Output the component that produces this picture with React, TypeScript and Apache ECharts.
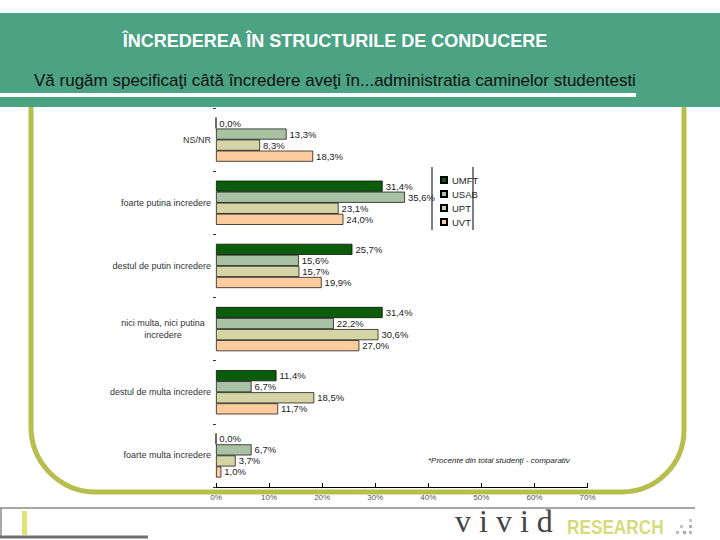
import React, { useEffect, useRef } from "react";
import * as echarts from "echarts";

const categories = [
  "NS/NR",
  "foarte putina incredere",
  "destul de putin incredere",
  "nici multa, nici putina\nincredere",
  "destul de multa incredere",
  "foarte multa incredere",
];
const seriesNames = ["UMFT", "USAB", "UPT", "UVT"];
const umft = [0.0, 31.4, 25.7, 31.4, 11.4, 0.0];
const usab = [13.3, 35.6, 15.6, 22.2, 6.7, 6.7];
const upt = [8.3, 23.1, 15.7, 30.6, 18.5, 3.7];
const uvt = [18.3, 24.0, 19.9, 27.0, 11.7, 1.0];
const seriesColors = ["#0b5c0b", "#a9c2a3", "#d5d4a4", "#fdcc9e"];
const xMin = 0;
const xMax = 70;
const xStep = 10;

const TITLE = "ÎNCREDEREA ÎN STRUCTURILE DE CONDUCERE";
const SUBTITLE =
  "Vă rugăm specificaţi câtă încredere aveţi în...administratia caminelor studentesti";
const NOTE = "*Procente din total studenţi - comparativ";

echarts.graphic.registerShape(
  "frame",
  echarts.graphic.extendPath(
    "M31,107 L31,427 A65,65 0 0 0 96,492 L622,492 A62,62 0 0 0 684,430 L684,107",
    {}
  )
);

const FONT = "'Liberation Sans', Arial, sans-serif";

export default function App() {
  const ref = useRef<HTMLDivElement>(null);
  useEffect(() => {
    if (!ref.current) return;
    const chart = echarts.init(ref.current, undefined, { renderer: "svg" });
    const values = [umft, usab, upt, uvt];
    const fmt = (v: number) => v.toFixed(1).replace(".", ",") + "%";
    const dots: any[] = [];
    const dotPos = [
      [689, 519, "#c8c8c8"],
      [680, 525, "#c8c8c8"],
      [689, 525, "#b0b0b0"],
      [676, 531, "#bdbdbd"],
      [683, 531, "#a8a8a8"],
      [689, 531, "#b8b8b8"],
    ];
    dotPos.forEach(([x, y, c]) =>
      dots.push({
        type: "rect",
        shape: { x: x as number, y: y as number, width: 3, height: 3 },
        style: { fill: c as string },
      })
    );
    chart.setOption({
      animation: false,
      textStyle: { fontFamily: FONT },
      graphic: [
        {
          type: "rect",
          z: -10,
          shape: { x: 0, y: 13, width: 720, height: 94 },
          style: { fill: "#4ba384" },
        },
        {
          type: "rect",
          z: -9,
          shape: { x: 0, y: 93, width: 636, height: 4 },
          style: { fill: "#ffffff" },
        },
        {
          type: "text",
          z: -8,
          x: 335,
          y: 41,
          style: {
            text: TITLE,
            fill: "#ffffff",
            font: `bold 18px ${FONT}`,
            align: "center",
            verticalAlign: "middle",
          },
        },
        {
          type: "text",
          z: -8,
          x: 34,
          y: 80,
          style: {
            text: SUBTITLE,
            fill: "#111111",
            font: `17px ${FONT}`,
            align: "left",
            verticalAlign: "middle",
          },
        },
        {
          type: "frame",
          z: -10,
          x: 0,
          y: 0,
          style: { fill: "none", stroke: "#b6bf4e", lineWidth: 5 },
        },
        {
          type: "line",
          shape: { x1: 432, y1: 167, x2: 432, y2: 230 },
          style: { stroke: "#000", lineWidth: 1 },
        },
        {
          type: "line",
          shape: { x1: 473, y1: 167, x2: 473, y2: 230 },
          style: { stroke: "#000", lineWidth: 1 },
        },
        {
          type: "text",
          x: 428,
          y: 460,
          style: {
            text: NOTE,
            fill: "#222",
            font: `italic 8px ${FONT}`,
            align: "left",
            verticalAlign: "middle",
          },
        },
        {
          type: "line",
          shape: { x1: 0, y1: 508, x2: 695, y2: 508 },
          style: { stroke: "#8a8a8a", lineWidth: 1.5 },
        },
        {
          type: "line",
          shape: { x1: 1, y1: 508, x2: 1, y2: 537 },
          style: { stroke: "#8a8a8a", lineWidth: 1.5 },
        },
        {
          type: "line",
          shape: { x1: 0, y1: 537, x2: 148, y2: 537 },
          style: { stroke: "#707070", lineWidth: 3 },
        },
        {
          type: "rect",
          shape: { x: 22, y: 511, width: 5, height: 24 },
          style: { fill: "#dfe36f" },
        },
        {
          type: "text",
          x: 455,
          y: 537,
          style: {
            text: "v i v i d",
            fill: "#444",
            font: `32px 'Liberation Serif', 'Times New Roman', serif`,
            align: "left",
            verticalAlign: "bottom",
          },
        },
        {
          type: "text",
          x: 567,
          y: 527,
          scaleX: 0.82,
          originX: 0,
          originY: 0,
          style: {
            text: "RESEARCH",
            fill: "#d6db7c",
            font: `bold 21px ${FONT}`,
            align: "left",
            verticalAlign: "middle",
          },
        },
        ...dots,
      ],
      legend: {
        data: seriesNames,
        orient: "vertical",
        left: 435,
        top: 170,
        itemWidth: 6,
        itemHeight: 6,
        itemGap: 4,
        icon: "rect",
        textStyle: { fontSize: 9.5, color: "#222", fontFamily: FONT },
      },
      grid: { left: 216, right: 132.5, top: 108, bottom: 53 },
      xAxis: {
        type: "value",
        min: xMin,
        max: xMax,
        interval: xStep,
        axisLine: { show: true, lineStyle: { color: "#000", width: 1 } },
        axisTick: { show: true, inside: true, length: 4, lineStyle: { color: "#000" } },
        splitLine: { show: false },
        axisLabel: {
          formatter: "{value}%",
          fontSize: 8,
          color: "#555",
          margin: 6,
        },
      },
      yAxis: {
        type: "category",
        inverse: true,
        data: categories,
        axisLine: { show: false },
        axisTick: { show: true, length: 3, lineStyle: { color: "#333" } },
        axisLabel: {
          fontSize: 9,
          color: "#333",
          margin: 5,
          lineHeight: 12,
          formatter: (v: string) =>
            v.includes("\n")
              ? v
                  .split("\n")
                  .map((s) => `{c|${s}}`)
                  .join("\n")
              : v,
          rich: {
            c: { width: 96, align: "center", fontSize: 9, color: "#333", lineHeight: 12 },
          },
        },
      },
      series: seriesNames.map((name, i) => ({
        name,
        type: "bar",
        data: values[i],
        barGap: "0%",
        barCategoryGap: "30%",
        itemStyle: { color: seriesColors[i], borderColor: "#000", borderWidth: 0.7 },
        label: {
          show: true,
          position: "right",
          distance: 3,
          fontSize: 9.5,
          color: "#222",
          formatter: (p: any) => fmt(p.value),
        },
      })),
    });
    return () => chart.dispose();
  }, []);
  return (
    <div
      ref={ref}
      style={{ position: "absolute", left: 0, top: 0, width: 720, height: 540, background: "#fff" }}
    />
  );
}
